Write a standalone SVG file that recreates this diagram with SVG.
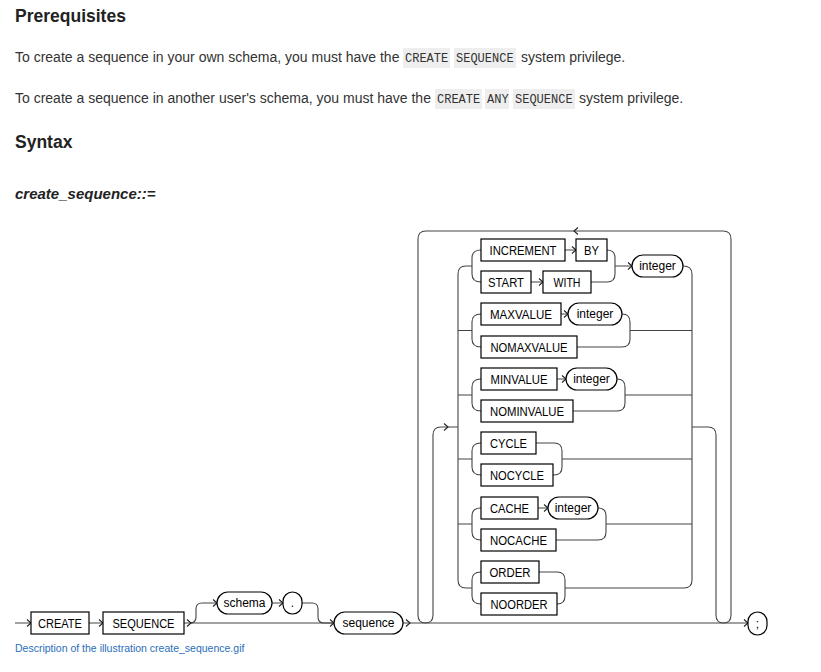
<svg xmlns="http://www.w3.org/2000/svg" xmlns:xlink="http://www.w3.org/1999/xlink" width="821" height="672" viewBox="0 0 821 672">
<style>
.h{font-family:"Liberation Sans",Arial,sans-serif;font-weight:bold;fill:#222}
.b{font-family:"Liberation Sans",Arial,sans-serif;font-size:14px;fill:#333}
.c{font-family:"Liberation Mono","Courier New",monospace;font-size:12px;fill:#333}
.cb{fill:#eeeeee}
.k{fill:#fff;stroke:#000;stroke-width:1.2}
.t{font-family:"Liberation Sans",Arial,sans-serif;font-size:12px;fill:#000;text-anchor:middle}
.ln{fill:none;stroke:#444;stroke-width:1.1}
.ar{fill:none;stroke:#222;stroke-width:1.1}
.lk{font-family:"Liberation Sans",Arial,sans-serif;font-size:10.5px;fill:#2a6ebb}
</style>
<defs>
<path id="aR" d="M-4,-3.5 L0,0 L-4,3.5" class="ar"/>
<path id="aL" d="M4,-3.5 L0,0 L4,3.5" class="ar"/>
</defs>
<rect width="821" height="672" fill="#fff"/>

<g id="text">
<text class="h" x="15" y="22" font-size="17.5">Prerequisites</text>
<text class="b" x="15" y="62">To create a sequence in your own schema, you must have the</text>
<rect class="cb" x="403" y="48" width="47" height="20"/>
<rect class="cb" x="454" y="48" width="62" height="20"/>
<text class="c" x="405" y="62">CREATE</text>
<text class="c" x="456" y="62">SEQUENCE</text>
<text class="b" x="521" y="62">system privilege.</text>
<text class="b" x="15" y="103">To create a sequence in another user's schema, you must have the</text>
<rect class="cb" x="435" y="89" width="47" height="20"/>
<rect class="cb" x="485" y="89" width="24" height="20"/>
<rect class="cb" x="513" y="89" width="62" height="20"/>
<text class="c" x="437" y="103">CREATE</text>
<text class="c" x="487" y="103">ANY</text>
<text class="c" x="515" y="103">SEQUENCE</text>
<text class="b" x="579" y="103">system privilege.</text>
<text class="h" x="15" y="148" font-size="17.5">Syntax</text>
<text class="h" x="15" y="199" font-size="15" font-style="italic">create_sequence::=</text>
<text class="lk" x="15" y="652">Description of the illustration create_sequence.gif</text>
</g>

<g id="connectors">
<path class="ln" d="M15,623 H31 M89,623 H103 M184,623 H334 M403,623 H748"/>
<path class="ln" d="M190,623 Q196,623 196,617 V609 Q196,603 202,603 H217 M272,603 H283 M302,603 H312 Q318,603 318,609 V617 Q318,623 324,623 H334"/>
<path class="ln" d="M692,427 H708 Q716,427 716,435 V615 Q716,623 723.5,623 Q731,623 731,615 V239 Q731,231 723,231 H426 Q418,231 418,239 V615 Q418,623 425.5,623 Q433,623 433,615 V435 Q433,427 441,427 H458"/>
<path class="ln" d="M472,266 H466 Q458,266 458,274 V580 Q458,588 466,588 H472 M458,330.5 H472 M458,395 H472 M458,459 H472 M458,524 H472"/>
<path class="ln" d="M481,250 Q472,250 472,258 V274 Q472,282 481,282 M481,314 Q472,314 472,322 V339 Q472,347 481,347 M481,379 Q472,379 472,387 V403 Q472,411 481,411 M481,443 Q472,443 472,451 V467 Q472,475 481,475 M481,508 Q472,508 472,516 V532 Q472,540 481,540 M481,572 Q472,572 472,580 V596 Q472,604 481,604"/>
<path class="ln" d="M565,250 H576 M531,282 H543 M607,250 Q615,250 615,258 V274 Q615,282 607,282 H591 M615,266 H632 M683,266 Q692,266 692,274 V580 Q692,588 684,588 H565"/>
<path class="ln" d="M561,314 H568 M622,314 Q630,314 630,322 V339 Q630,347 622,347 H577 M630,330.5 H692"/>
<path class="ln" d="M557,379 H566 M617,379 Q625,379 625,387 V403 Q625,411 617,411 H573 M625,395 H692"/>
<path class="ln" d="M536,443 H554 Q562,443 562,451 V467 Q562,475 554,475 H553 M562,459 H692"/>
<path class="ln" d="M538,508 H548 M598,508 Q606,508 606,516 V532 Q606,540 598,540 H556 M606,524 H692"/>
<path class="ln" d="M539,572 H557 Q565,572 565,580 V596 Q565,604 557,604 H557"/>
<use xlink:href="#aR" x="31" y="623"/>
<use xlink:href="#aR" x="103" y="623"/>
<use xlink:href="#aR" x="191" y="623"/>
<use xlink:href="#aR" x="217" y="603"/>
<use xlink:href="#aR" x="283" y="603"/>
<use xlink:href="#aR" x="334" y="623"/>
<use xlink:href="#aR" x="410" y="623"/>
<use xlink:href="#aR" x="748" y="623"/>
<use xlink:href="#aR" x="448" y="427"/>
<use xlink:href="#aL" x="574" y="231"/>
<use xlink:href="#aR" x="576" y="250"/>
<use xlink:href="#aR" x="543" y="282"/>
<use xlink:href="#aR" x="632" y="266"/>
<use xlink:href="#aR" x="568" y="314"/>
<use xlink:href="#aR" x="566" y="379"/>
<use xlink:href="#aR" x="548" y="508"/>
</g>

<g id="n-create"><rect class="k" x="31" y="612" width="58" height="22"/><text class="t" x="60" y="627.5" textLength="44" lengthAdjust="spacingAndGlyphs">CREATE</text></g>
<g id="n-sequence-kw"><rect class="k" x="103" y="612" width="81" height="22"/><text class="t" x="143.5" y="627.5" textLength="62" lengthAdjust="spacingAndGlyphs">SEQUENCE</text></g>
<g id="n-schema"><rect class="k" x="217" y="592" width="55" height="22" rx="11"/><text class="t" x="244.5" y="607">schema</text></g>
<g id="n-dot"><rect class="k" x="283" y="592" width="19" height="22" rx="9.5"/><text class="t" x="292.5" y="607">.</text></g>
<g id="n-sequence"><rect class="k" x="334" y="612" width="69" height="22" rx="11"/><text class="t" x="368.5" y="627">sequence</text></g>
<g id="n-semi"><rect class="k" x="748" y="612" width="19" height="23" rx="9.5"/><text class="t" x="757.5" y="627.5">;</text></g>

<g id="n-increment"><rect class="k" x="481" y="239" width="84" height="22"/><text class="t" x="523" y="254.5" textLength="67" lengthAdjust="spacingAndGlyphs">INCREMENT</text></g>
<g id="n-by"><rect class="k" x="576" y="239" width="31" height="22"/><text class="t" x="591.5" y="254.5" textLength="15" lengthAdjust="spacingAndGlyphs">BY</text></g>
<g id="n-start"><rect class="k" x="481" y="271" width="50" height="22"/><text class="t" x="506" y="286.5" textLength="36" lengthAdjust="spacingAndGlyphs">START</text></g>
<g id="n-with"><rect class="k" x="543" y="271" width="48" height="22"/><text class="t" x="567" y="286.5" textLength="27" lengthAdjust="spacingAndGlyphs">WITH</text></g>
<g id="n-integer1"><rect class="k" x="632" y="255" width="51" height="22" rx="11"/><text class="t" x="657.5" y="270">integer</text></g>
<g id="n-maxvalue"><rect class="k" x="481" y="303" width="80" height="22"/><text class="t" x="521" y="318.5" textLength="62" lengthAdjust="spacingAndGlyphs">MAXVALUE</text></g>
<g id="n-integer2"><rect class="k" x="568" y="303" width="54" height="22" rx="11"/><text class="t" x="595" y="318">integer</text></g>
<g id="n-nomaxvalue"><rect class="k" x="481" y="336" width="96" height="22"/><text class="t" x="529" y="351.5" textLength="77" lengthAdjust="spacingAndGlyphs">NOMAXVALUE</text></g>
<g id="n-minvalue"><rect class="k" x="481" y="368" width="76" height="22"/><text class="t" x="519" y="383.5" textLength="57" lengthAdjust="spacingAndGlyphs">MINVALUE</text></g>
<g id="n-integer3"><rect class="k" x="566" y="368" width="51" height="22" rx="11"/><text class="t" x="591.5" y="383">integer</text></g>
<g id="n-nominvalue"><rect class="k" x="481" y="400" width="92" height="22"/><text class="t" x="527" y="415.5" textLength="74" lengthAdjust="spacingAndGlyphs">NOMINVALUE</text></g>
<g id="n-cycle"><rect class="k" x="481" y="432" width="55" height="22"/><text class="t" x="508.5" y="447.5" textLength="37" lengthAdjust="spacingAndGlyphs">CYCLE</text></g>
<g id="n-nocycle"><rect class="k" x="481" y="464" width="72" height="22"/><text class="t" x="517" y="479.5" textLength="54" lengthAdjust="spacingAndGlyphs">NOCYCLE</text></g>
<g id="n-cache"><rect class="k" x="481" y="497" width="57" height="22"/><text class="t" x="509.5" y="512.5" textLength="39" lengthAdjust="spacingAndGlyphs">CACHE</text></g>
<g id="n-integer5"><rect class="k" x="548" y="497" width="50" height="22" rx="11"/><text class="t" x="573" y="512">integer</text></g>
<g id="n-nocache"><rect class="k" x="481" y="529" width="75" height="22"/><text class="t" x="518.5" y="544.5" textLength="57" lengthAdjust="spacingAndGlyphs">NOCACHE</text></g>
<g id="n-order"><rect class="k" x="481" y="561" width="58" height="22"/><text class="t" x="510" y="576.5" textLength="41" lengthAdjust="spacingAndGlyphs">ORDER</text></g>
<g id="n-noorder"><rect class="k" x="481" y="593" width="76" height="22"/><text class="t" x="519" y="608.5" textLength="57" lengthAdjust="spacingAndGlyphs">NOORDER</text></g>
</svg>
